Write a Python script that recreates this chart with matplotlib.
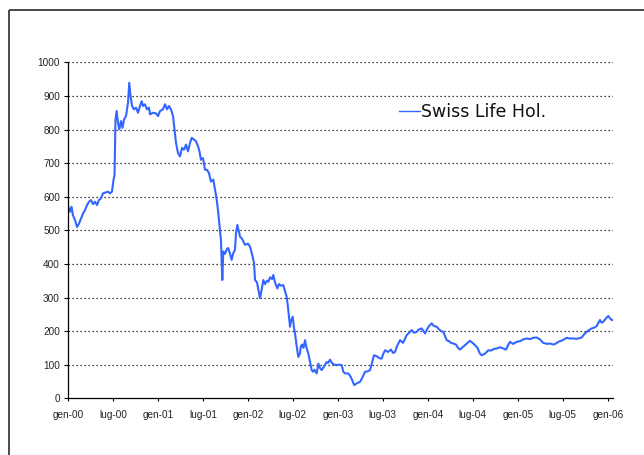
import numpy as np
import pandas as pd
import matplotlib
matplotlib.use("Agg")
import matplotlib.pyplot as plt
from matplotlib.lines import Line2D

# ---- data ----
series_name = "Swiss Life Hol."
# time in years since 1 Jan 2000
years = [0.000, 0.019, 0.036, 0.052, 0.075, 0.097, 0.119, 0.141, 0.164, 0.186,
         0.208, 0.230, 0.252, 0.275, 0.297, 0.319, 0.341, 0.364, 0.386, 0.408,
         0.442, 0.464, 0.486, 0.503, 0.514, 0.525, 0.538, 0.553, 0.567, 0.586,
         0.603, 0.620, 0.642, 0.664, 0.678, 0.692, 0.709, 0.731, 0.753, 0.775,
         0.798, 0.816, 0.831, 0.853, 0.875, 0.898, 0.909, 0.942, 0.975, 0.998,
         1.020, 1.053, 1.076, 1.098, 1.120, 1.142, 1.165, 1.181, 1.198, 1.220,
         1.242, 1.265, 1.287, 1.309, 1.331, 1.354, 1.373, 1.398, 1.420, 1.443,
         1.459, 1.476, 1.498, 1.521, 1.543, 1.565, 1.587, 1.613, 1.632, 1.651,
         1.665, 1.676, 1.687, 1.698, 1.713, 1.724, 1.743, 1.765, 1.780, 1.799,
         1.817, 1.832, 1.854, 1.865, 1.880, 1.899, 1.910, 1.932, 1.965, 1.999,
         2.021, 2.043, 2.066, 2.077, 2.099, 2.116, 2.132, 2.149, 2.169, 2.188,
         2.210, 2.225, 2.244, 2.266, 2.280, 2.299, 2.325, 2.344, 2.366, 2.391,
         2.410, 2.429, 2.444, 2.455, 2.466, 2.477, 2.496, 2.510, 2.522, 2.538,
         2.558, 2.577, 2.585, 2.599, 2.616, 2.633, 2.650, 2.670, 2.688, 2.707,
         2.722, 2.738, 2.763, 2.781, 2.800, 2.819, 2.844, 2.874, 2.889, 2.911,
         2.933, 2.955, 2.985, 3.011, 3.041, 3.059, 3.078, 3.114, 3.139, 3.156,
         3.181, 3.211, 3.245, 3.272, 3.300, 3.328, 3.356, 3.378, 3.400, 3.434,
         3.456, 3.486, 3.500, 3.523, 3.556, 3.589, 3.612, 3.634, 3.656, 3.690,
         3.723, 3.764, 3.790, 3.820, 3.845, 3.875, 3.901, 3.931, 3.951, 3.968,
         3.990, 4.012, 4.042, 4.068, 4.098, 4.123, 4.146, 4.171, 4.190, 4.209,
         4.234, 4.257, 4.282, 4.312, 4.335, 4.357, 4.385, 4.413, 4.440, 4.468,
         4.496, 4.524, 4.552, 4.579, 4.598, 4.635, 4.672, 4.702, 4.735, 4.765,
         4.802, 4.839, 4.869, 4.891, 4.913, 4.946, 4.988, 5.024, 5.058, 5.099,
         5.136, 5.169, 5.210, 5.247, 5.283, 5.325, 5.358, 5.395, 5.425, 5.450,
         5.491, 5.544, 5.580, 5.617, 5.658, 5.710, 5.736, 5.766, 5.792, 5.822,
         5.847, 5.877, 5.897, 5.914, 5.931, 5.951, 5.981, 6.006, 6.025, 6.044,
         6.062]
prices = [571, 555, 570, 545, 530, 510, 520, 535, 550, 560,
          575, 585, 590, 578, 585, 575, 590, 595, 610, 612,
          615, 610, 615, 650, 665, 830, 855, 820, 800, 825,
          805, 830, 840, 880, 939, 900, 870, 860, 865, 850,
          870, 884, 870, 875, 860, 865, 845, 850, 848, 840,
          855, 860, 875, 860, 870, 860, 840, 800, 760, 730,
          720, 745, 740, 755, 735, 760, 775, 770, 765, 750,
          735, 710, 715, 680, 680, 670, 645, 651, 620, 591,
          560, 530, 501, 470, 352, 437, 430, 445, 447, 430,
          412, 430, 442, 490, 516, 495, 481, 475, 457, 460,
          452, 430, 402, 352, 345, 320, 298, 320, 352, 340,
          350, 347, 360, 355, 367, 345, 327, 340, 335, 337,
          320, 302, 270, 240, 213, 230, 243, 210, 193, 160,
          123, 133, 153, 160, 150, 173, 150, 133, 110, 84,
          79, 85, 74, 103, 90, 84, 95, 108, 105, 115,
          105, 100, 99, 100, 99, 79, 74, 74, 65, 55,
          39, 45, 49, 62, 79, 80, 84, 105, 128, 125,
          120, 118, 130, 143, 138, 145, 135, 138, 155, 173,
          165, 188, 195, 203, 195, 198, 205, 208, 200, 193,
          205, 215, 223, 215, 213, 205, 200, 198, 185, 173,
          170, 165, 163, 160, 150, 145, 152, 158, 165, 171,
          165, 158, 150, 133, 128, 133, 143, 142, 147, 148,
          152, 148, 145, 158, 168, 162, 168, 170, 175, 178,
          176, 180, 181, 175, 165, 162, 163, 160, 163, 168,
          172, 180, 178, 178, 177, 181, 190, 198, 203, 208,
          210, 215, 225, 233, 225, 228, 238, 245, 238, 233,
          233]
tick_labels = ["gen-00", "lug-00", "gen-01", "lug-01", "gen-02", "lug-02",
               "gen-03", "lug-03", "gen-04", "lug-04", "gen-05", "lug-05", "gen-06"]
tick_dates = ["2000-01-01", "2000-07-01", "2001-01-01", "2001-07-01", "2002-01-01",
              "2002-07-01", "2003-01-01", "2003-07-01", "2004-01-01", "2004-07-01",
              "2005-01-01", "2005-07-01", "2006-01-01"]
y_ticks = [0, 100, 200, 300, 400, 500, 600, 700, 800, 900, 1000]

# ---- figure ----
start = pd.Timestamp("2000-01-01")
dates = start + pd.to_timedelta(np.array(years) * 365.25, unit="D")

fig = plt.figure(figsize=(6.44, 4.55), dpi=100)
fig.patch.set_facecolor("white")
W, H = 644.0, 455.0
ax = fig.add_axes([68.3 / W, 1 - 398.3 / H, (613.3 - 68.3) / W, (398.3 - 62.3) / H])

line_color = "#3366ff"
ax.plot(dates, prices, color=line_color, lw=1.5, solid_joinstyle="round")

ax.set_ylim(0, 1000)
ax.set_xlim(start, dates[-1])
ax.set_yticks(y_ticks)
ax.set_yticklabels([str(v) for v in y_ticks])
ax.set_xticks(pd.to_datetime(tick_dates))
ax.set_xticklabels(tick_labels)

for v in y_ticks[1:]:
    ax.axhline(v, color="black", lw=0.9, linestyle=(0, (1, 2.2)), zorder=0)

for s in ["top", "right"]:
    ax.spines[s].set_visible(False)
for s in ["left", "bottom"]:
    ax.spines[s].set_linewidth(0.9)
    ax.spines[s].set_color("black")

tick_font = dict(family=["Liberation Sans", "DejaVu Sans"], size=7.2)
ax.tick_params(axis="y", length=3, width=0.8, pad=3, colors="black", labelcolor="#222222")
ax.tick_params(axis="x", length=2.2, width=0.8, pad=6, colors="black", labelcolor="#222222")
for lab in ax.get_xticklabels() + ax.get_yticklabels():
    lab.set_fontfamily(tick_font["family"])
    lab.set_fontsize(tick_font["size"])

handle = Line2D([], [], color=line_color, lw=1.0)
leg = fig.legend([handle], [series_name], loc="center left",
                 bbox_to_anchor=(399 / W, 1 - 112 / H), frameon=False,
                 borderpad=0, borderaxespad=0, handlelength=1.2, handletextpad=0.05,
                 prop=dict(family="DejaVu Sans", size=12.5))
for t in leg.get_texts():
    t.set_color("#111111")

# outer frame (left and top edges visible)
fig.add_artist(Line2D([9 / W, 9 / W], [0, 1 - 9.5 / H], transform=fig.transFigure,
                      color="#4a4a4a", lw=1.4, solid_capstyle="butt"))
fig.add_artist(Line2D([9 / W, 1], [1 - 9.5 / H, 1 - 9.5 / H], transform=fig.transFigure,
                      color="#4a4a4a", lw=1.4, solid_capstyle="butt"))

fig.savefig("out.png", dpi=100, facecolor="white")
